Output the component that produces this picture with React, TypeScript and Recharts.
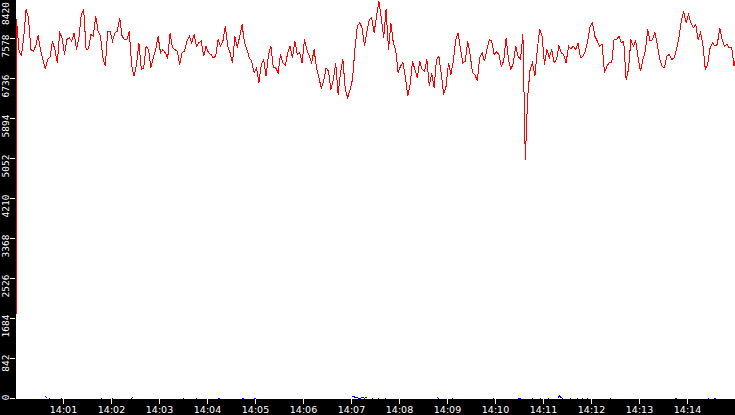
import React from 'react';
import { LineChart, Line, XAxis, YAxis } from 'recharts';

// red series: one reading every 3 s from 14:00 to 14:15
const redStart = 1770;
const red0005 = [
  7978, 7346, 7206, 7592, 8188, 8013, 7346, 7311, 7417, 7641,
  7346, 7136, 6939, 7136, 7192, 7522, 7346, 7066, 7697, 7592,
  7241, 7557, 7592, 7522, 7697, 7346, 7592, 8083, 8188, 7346,
  7360, 7662, 7627, 8048, 7732, 7627, 7171, 6996, 7732, 7732,
  7522, 7697, 7732, 8013, 7627, 7557, 7557, 7732, 6996, 6785,
  7031, 7487, 6925, 6960, 7417, 7346, 6960, 7171, 7346, 7627,
  7276, 7346, 7276, 7171, 7697, 7382, 7346, 7311, 7031, 7276,
  7311, 7522, 7627, 7487, 7662, 7417, 7487, 7522, 7206, 7417,
  7276, 7241, 7171, 7206, 7557, 7417, 7522, 7838, 7417, 7276,
  7066, 7627, 7382, 7627, 7873, 7487, 7346, 7171, 7101, 6855
];
const red0510 = [
  6961, 6645, 7031, 7136, 6785, 7241, 7417, 6961, 6961, 6855,
  7241, 7066, 7010, 7276, 7417, 7171, 7522, 7241, 7276, 7066,
  7557, 7346, 7206, 7066, 7346, 6961, 6750, 6539, 6680, 6961,
  6890, 6504, 6715, 7066, 6399, 6855, 7136, 6504, 6329, 6504,
  6715, 7346, 7838, 7908, 7803, 7417, 7732, 7978, 8013, 7697,
  8048, 8364, 8013, 7592, 8188, 7346, 7908, 7487, 7346, 6855,
  6996, 7066, 6785, 6364, 6610, 7101, 6925, 6750, 7101, 6925,
  6890, 7136, 6575, 6855, 6539, 7136, 7206, 6820, 6399, 6575,
  7066, 6820, 7101, 7557, 7697, 7346, 7066, 7101, 7522, 7241,
  6855, 6820, 6680, 7171, 7276, 7101, 7346, 7557, 7522, 7241
];
const red1015 = [
  7290, 7241, 6996, 7101, 7592, 7136, 6925, 7066, 7417, 7206,
  7136, 7662, 5031, 6364, 6925, 7066, 6785, 7346, 7767, 7627,
  7031, 7346, 7171, 7346, 7066, 7136, 7417, 7276, 7241, 7066,
  7417, 7360, 7417, 7346, 7487, 7171, 7206, 7311, 7522, 7838,
  7908, 7627, 7522, 7417, 7452, 6855, 6996, 7066, 7066, 7557,
  7557, 7627, 7487, 7522, 6715, 6925, 7557, 7417, 7522, 7171,
  6890, 7136, 7311, 7767, 7522, 7557, 7697, 7452, 7136, 6996,
  6960, 7206, 7241, 7136, 7171, 7346, 7592, 7943, 8153, 7908,
  8083, 7908, 7803, 7873, 7557, 7697, 7452, 6925, 7031, 7382,
  7487, 7417, 7452, 7803, 7557, 7417, 7452, 7382, 7382, 6996
];
const redEnd = 7150;
const redOffset = 1.25; // first reading lands one second after 14:00

// blue series: small blips just above zero, null = nothing drawn
const blueTimes = [
  37, 39.5, 40.5, 42, 43.5, 50, 57, 58.5, 80, 107, 108.5, 115,
  120.5, 122, 130, 144, 147, 180, 209, 211, 218, 225, 226.5, 240,
  253.5, 255, 270, 283.5, 285, 292, 298.5, 300, 350,
  421, 423, 424.5, 426, 430, 434, 436.5, 439, 441,
  445, 446.5, 450, 452.5, 454, 458, 461.5, 463, 500,
  526.5, 529, 537, 545, 546.5, 570, 596.5, 598, 615,
  628, 632, 640, 645, 646.5, 650, 655, 656.5, 660, 665.5, 667, 672,
  678, 680, 682, 684, 688, 692.5, 694, 698, 701.5, 703, 706,
  708, 709.5, 712, 714.5, 716, 730, 742.5, 744, 780,
  824, 827, 850, 865.5, 867, 870, 873, 876
];
const blueValues = [
  40, 15, null, 5, 5, null, 5, 5, null, 5, 5, null,
  5, 5, null, 5, 15, null, 5, 5, null, 5, 5, null,
  5, 5, null, 5, 5, null, 5, 5, null,
  35, 45, 15, 20, 5, 15, 5, 25, null,
  5, 5, null, 5, 5, null, 5, 5, null,
  25, 5, null, 5, 5, null, 5, 5, null,
  5, 5, null, 5, 5, null, 5, 5, null, 5, 5, null,
  15, 55, 20, 5, null, 5, 5, null, 5, 5, null,
  5, 5, null, 5, 5, null, 5, 5, null,
  5, 5, null, 5, 5, null, 5, 5
];

const yTicks = [0, 842, 1684, 2526, 3368, 4210, 5052, 5894, 6736, 7578, 8420];
const xTicks = [60, 120, 180, 240, 300, 360, 420, 480, 540, 600, 660, 720, 780, 840];
const xLabels = ['14:01', '14:02', '14:03', '14:04', '14:05', '14:06', '14:07',
  '14:08', '14:09', '14:10', '14:11', '14:12', '14:13', '14:14'];

const redValues = [...red0005, ...red0510, ...red1015];
const redData = [
  { t: redOffset, v: redStart },
  ...redValues.map((v, i) => ({ t: i * 3 + redOffset, v })),
  { t: 900, v: redEnd }
];
const blueData = blueTimes.map((t, i) => ({ t, v: blueValues[i] }));

// y labels sit just above their tick, reading upwards; the top one is kept inside
const YTick = ({ y, payload }: any) => {
  const top = Math.max(y - 4, 2);
  return (
    <text
      x={9}
      y={top}
      transform={`rotate(-90 9 ${top})`}
      textAnchor="end"
      fill="#fff"
      fontSize={9.5}
      fontFamily="DejaVu Sans Mono"
    >
      {payload.value}
    </text>
  );
};

const XTick = ({ x, y, payload }: any) => (
  <text
    x={x}
    y={y}
    dy="0.71em"
    textAnchor="middle"
    fill="#fff"
    fontSize={9.5}
    fontFamily="DejaVu Sans"
  >
    {xLabels[xTicks.indexOf(payload.value)]}
  </text>
);

export default function App() {
  return (
    <div style={{ position: 'relative', width: 735, height: 415, background: '#000', overflow: 'hidden' }}>
      <style>{'body{margin:0}'}</style>
      <div style={{ position: 'absolute', left: 16, top: 0, width: 720, height: 399, background: '#fff' }} />
      <div style={{ position: 'absolute', left: 0, top: 0 }}>
        {/* the plot box reaches half a pixel past 14:00 and below zero so the
            edge pixels are not clipped away */}
        <LineChart
          width={735}
          height={415}
          margin={{ top: -1.5, right: -0.5, bottom: 0, left: 0 }}
        >
          <XAxis
            type="number"
            dataKey="t"
            domain={[-0.625, 900]}
            ticks={xTicks}
            height={16}
            axisLine={false}
            tickLine={{ stroke: '#fff' }}
            tickSize={5}
            tick={<XTick />}
            interval={0}
          />
          <YAxis
            type="number"
            domain={[-10.525, 8420]}
            ticks={yTicks}
            width={15}
            axisLine={false}
            tickLine={{ stroke: '#fff' }}
            tickSize={5}
            tick={<YTick />}
            interval={0}
          />
          <Line
            data={redData}
            dataKey="v"
            type="linear"
            stroke="#ff0000"
            strokeWidth={1}
            dot={false}
            activeDot={false}
            style={{ shapeRendering: 'crispEdges' }}
            isAnimationActive={false}
          />
          <Line
            data={blueData}
            dataKey="v"
            type="linear"
            stroke="#0000ff"
            strokeWidth={1}
            dot={false}
            activeDot={false}
            connectNulls={false}
            style={{ shapeRendering: 'crispEdges' }}
            isAnimationActive={false}
          />
        </LineChart>
      </div>
    </div>
  );
}
